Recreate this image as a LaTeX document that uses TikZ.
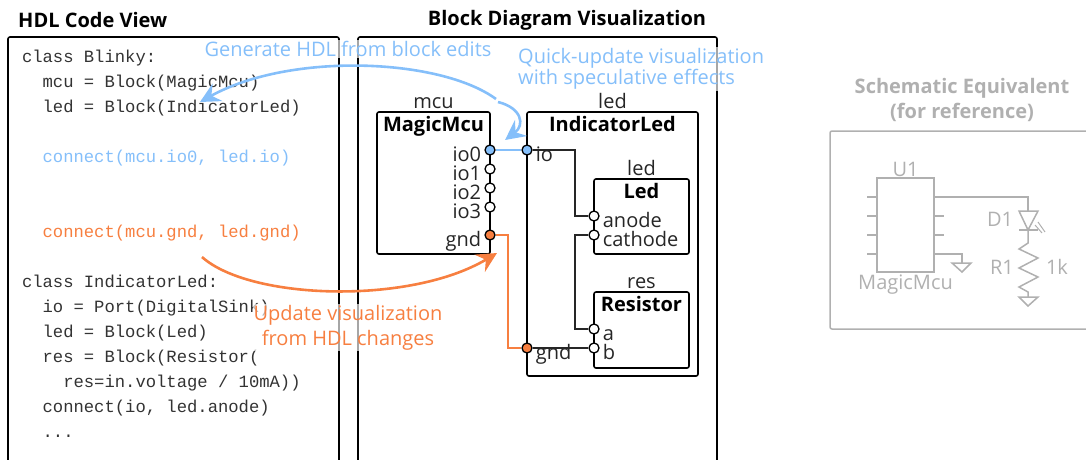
\documentclass[tikz,border=0pt]{standalone}
\usepackage{fontspec}
\setmainfont{Open Sans}
\setmonofont{Liberation Mono}
\usepackage{tikz}
\usetikzlibrary{arrows.meta, positioning}

\definecolor{editblue}{HTML}{85BFFA}
\definecolor{hdlorange}{HTML}{F77F40}
\definecolor{refgray}{HTML}{B0B0B0}

\begin{document}
\begin{tikzpicture}[
    x=1pt, y=-1pt,
    node distance=0pt,
    panel/.style={rectangle, draw, line width=1.6pt, rounded corners=2pt, anchor=north west, inner sep=0pt, outer sep=0pt},
    heading/.style={font=\fontsize{20}{25}\selectfont\bfseries, inner sep=0pt, align=center},
    codeline/.style={font=\fontsize{17.2}{20}\selectfont\ttfamily, color=black!80, inner sep=0pt, outer sep=0pt, text width=310pt, text height=16pt, text depth=9pt, execute at begin node={\spaceskip=10.32pt\relax\xspaceskip=10.32pt\relax}},
    block/.style={panel, fill=white},
    blocktitle/.style={font=\fontsize{20}{22}\selectfont\bfseries, inner sep=0pt, text height=15pt, text depth=4pt},
    instance/.style={font=\fontsize{20}{22}\selectfont, color=black!85, inner sep=0pt, text depth=0pt},
    port/.style={circle, draw, line width=1.3pt, fill=white, minimum size=10pt, inner sep=0pt},
    leftport/.style={port, label={[portlabel, xshift=-3pt]left:#1}},
    rightport/.style={port, label={[portlabel, xshift=3pt]right:#1}},
    portlabel/.style={font=\fontsize{20}{22}\selectfont, color=black!85, inner sep=0pt, text height=14pt, text depth=5pt, yshift=-6.5pt},
    wire/.style={line width=1.3pt, color=black!85},
    note/.style={font=\fontsize{20}{20}\selectfont, inner sep=1pt, align=center, fill=white, fill opacity=0.65, text opacity=1},
    arrow/.style={line width=2.6pt, -{Stealth[length=20pt, width=20pt, inset=7pt]}},
    refline/.style={line width=1.5pt, color=refgray},
    reftext/.style={font=\fontsize{20}{22}\selectfont, color=refgray, inner sep=0pt}
]
\clip (0,0) rectangle (1086,459);

% panels
\node[heading, anchor=west] (codehead) at (18,20) {HDL Code View};
\node[heading] (blockhead) at (567,20) {Block Diagram Visualization};
\node[panel, minimum width=331pt, minimum height=460pt] (codepanel) at (8,37) {};
\node[panel, minimum width=359pt, minimum height=460pt] (blockpanel) at (358,37) {};

% HDL code
\node[codeline, anchor=north west] (blinky) at (22,46) {class Blinky:};
\node[codeline, below=of blinky] (mculine) {~~mcu = Block(MagicMcu)};
\node[codeline, below=of mculine] (ledline) {~~led = Block(IndicatorLed)};
\node[codeline, below=25pt of ledline, color=editblue] (connio) {~~connect(mcu.io0, led.io)};
\node[codeline, below=50pt of connio, color=hdlorange] (conngnd) {~~connect(mcu.gnd, led.gnd)};
\node[codeline, below=25pt of conngnd] (indicator) {class IndicatorLed:};
\node[codeline, below=of indicator] (ioline) {~~io = Port(DigitalSink)};
\node[codeline, below=of ioline] (ledblock) {~~led = Block(Led)};
\node[codeline, below=of ledblock] (resblock) {~~res = Block(Resistor(};
\node[codeline, below=of resblock] (resarg) {~~~~res=in.voltage / 10mA))};
\node[codeline, below=of resarg] (connanode) {~~connect(io, led.anode)};
\node[codeline, below=of connanode] (dots) {~~...};

% blocks
\node[block, minimum width=113pt, minimum height=142pt] (magicmcu) at (377,112) {};
\node[block, minimum width=171pt, minimum height=264pt] (indicatorled) at (527,112) {};
\node[block, minimum width=95pt, minimum height=75pt] (led) at (594,179) {};
\node[block, minimum width=95pt, minimum height=76pt] (resistor) at (594,292) {};

\node[instance, above=3pt of magicmcu] (mculabel) {mcu};
\node[instance, above=3pt of indicatorled] (indlabel) {led};
\node[instance, above=3pt of led] (ledlabel) {led};
\node[instance, above=3pt of resistor] (reslabel) {res};
\node[blocktitle, below=4pt of magicmcu.north] (mcutitle) {MagicMcu};
\node[blocktitle, below=4pt of indicatorled.north] (indtitle) {IndicatorLed};
\node[blocktitle, below=4pt of led.north] (ledtitle) {Led};
\node[blocktitle, below=4pt of resistor.north] (restitle) {Resistor};

% wires under the ports
\coordinate (ioturn) at (575,150);
\coordinate (gndturn) at (508,235);
\node[leftport=io0, fill=editblue] (io0) at (490,150) {};
\node[leftport=io1] (io1) at (490,169) {};
\node[leftport=io2] (io2) at (490,188) {};
\node[leftport=io3] (io3) at (490,207) {};
\node[leftport=gnd, fill=hdlorange] (mcugnd) at (490,235) {};
\node[rightport=io, fill=editblue] (io) at (527,150) {};
\node[rightport=gnd, fill=hdlorange] (indgnd) at (527,348) {};
\node[rightport=anode] (anode) at (594,216) {};
\node[rightport=cathode] (cathode) at (594,235) {};
\node[rightport=a] (resa) at (594,329) {};
\node[rightport=b] (resb) at (594,348) {};

\draw[wire, color=editblue] (io0) -- (io);
\draw[wire] (io) -- (ioturn) |- (anode);
\draw[wire] (cathode) -| (ioturn |- resa) -- (resa);
\draw[wire] (indgnd) -- (resb);
\draw[wire, color=hdlorange] (mcugnd) -- (gndturn) |- (indgnd);

% notes and arrows
\coordinate (genstart) at (496,99);
\coordinate (genend) at (200,102);
\coordinate (quickstart) at (498,102);
\coordinate (quickend) at (505,140);
\coordinate (updstart) at (202,257);
\coordinate (updend) at (497,253);

\node[note, text=editblue] (gennote) at (348,49) {Generate HDL from block edits};
\node[note, text=editblue, anchor=west, align=left] (quicknote) at (517,69) {Quick-update visualization\\with speculative effects};
\node[note, text=hdlorange, font=\fontsize{20}{25}\selectfont] (updnote) at (348,327.5) {Update visualization\\from HDL changes};

\draw[arrow, color=editblue] (genstart) .. controls (440,58) and (290,52) .. (genend);
\draw[arrow, color=editblue] (quickstart) .. controls (522,108) and (525,125) .. (quickend);
\draw[arrow, color=hdlorange] (updstart) .. controls (250,300) and (410,305) .. (updend);

% schematic
\node[heading, color=refgray] (schemhead) at (962,99.5) {Schematic Equivalent\\(for reference)};
\node[panel, draw=refgray, line width=1.5pt, minimum width=280pt, minimum height=198pt] (schempanel) at (830,131) {};
\node[panel, draw=refgray, line width=1.5pt, rounded corners=0pt, minimum width=57pt, minimum height=94pt] (chip) at (877,178) {};
\node[reftext, above=1pt of chip] (u1) {U1};
\node[reftext, below=3pt of chip] (chipname) {MagicMcu};
\node[reftext] (d1) at (1000,219) {D1};
\node[reftext] (r1) at (1002,267) {R1};
\node[reftext] (r1val) at (1057,267) {1k};

\foreach \y in {197,216,235,254} \draw[refline] (867,\y) -- (877,\y);
\foreach \y in {216,235} \draw[refline] (934,\y) -- (944,\y);
\draw[refline] (934,197) -- (1028,197) -- (1028,211);
\draw[refline] (934,254) -- (962,254) -- (962,263);
\draw[refline] (952,263) -- (971,263) -- (962,272) -- cycle;
\draw[refline] (1019,211) -- (1038,211) -- (1028,230) -- cycle;
\draw[refline] (1019,230) -- (1038,230);
\draw[refline, line width=1pt] (1038,222) -- (1045,232) (1035,225) -- (1042,233);
\draw[refline] (1028,230) -- (1028,243) -- (1019,249) -- (1038,258) -- (1019,268) -- (1038,277) -- (1019,287) -- (1028,292) -- (1028,297);
\draw[refline] (1019,297) -- (1038,297) -- (1028,306) -- cycle;
\end{tikzpicture}
\end{document}
